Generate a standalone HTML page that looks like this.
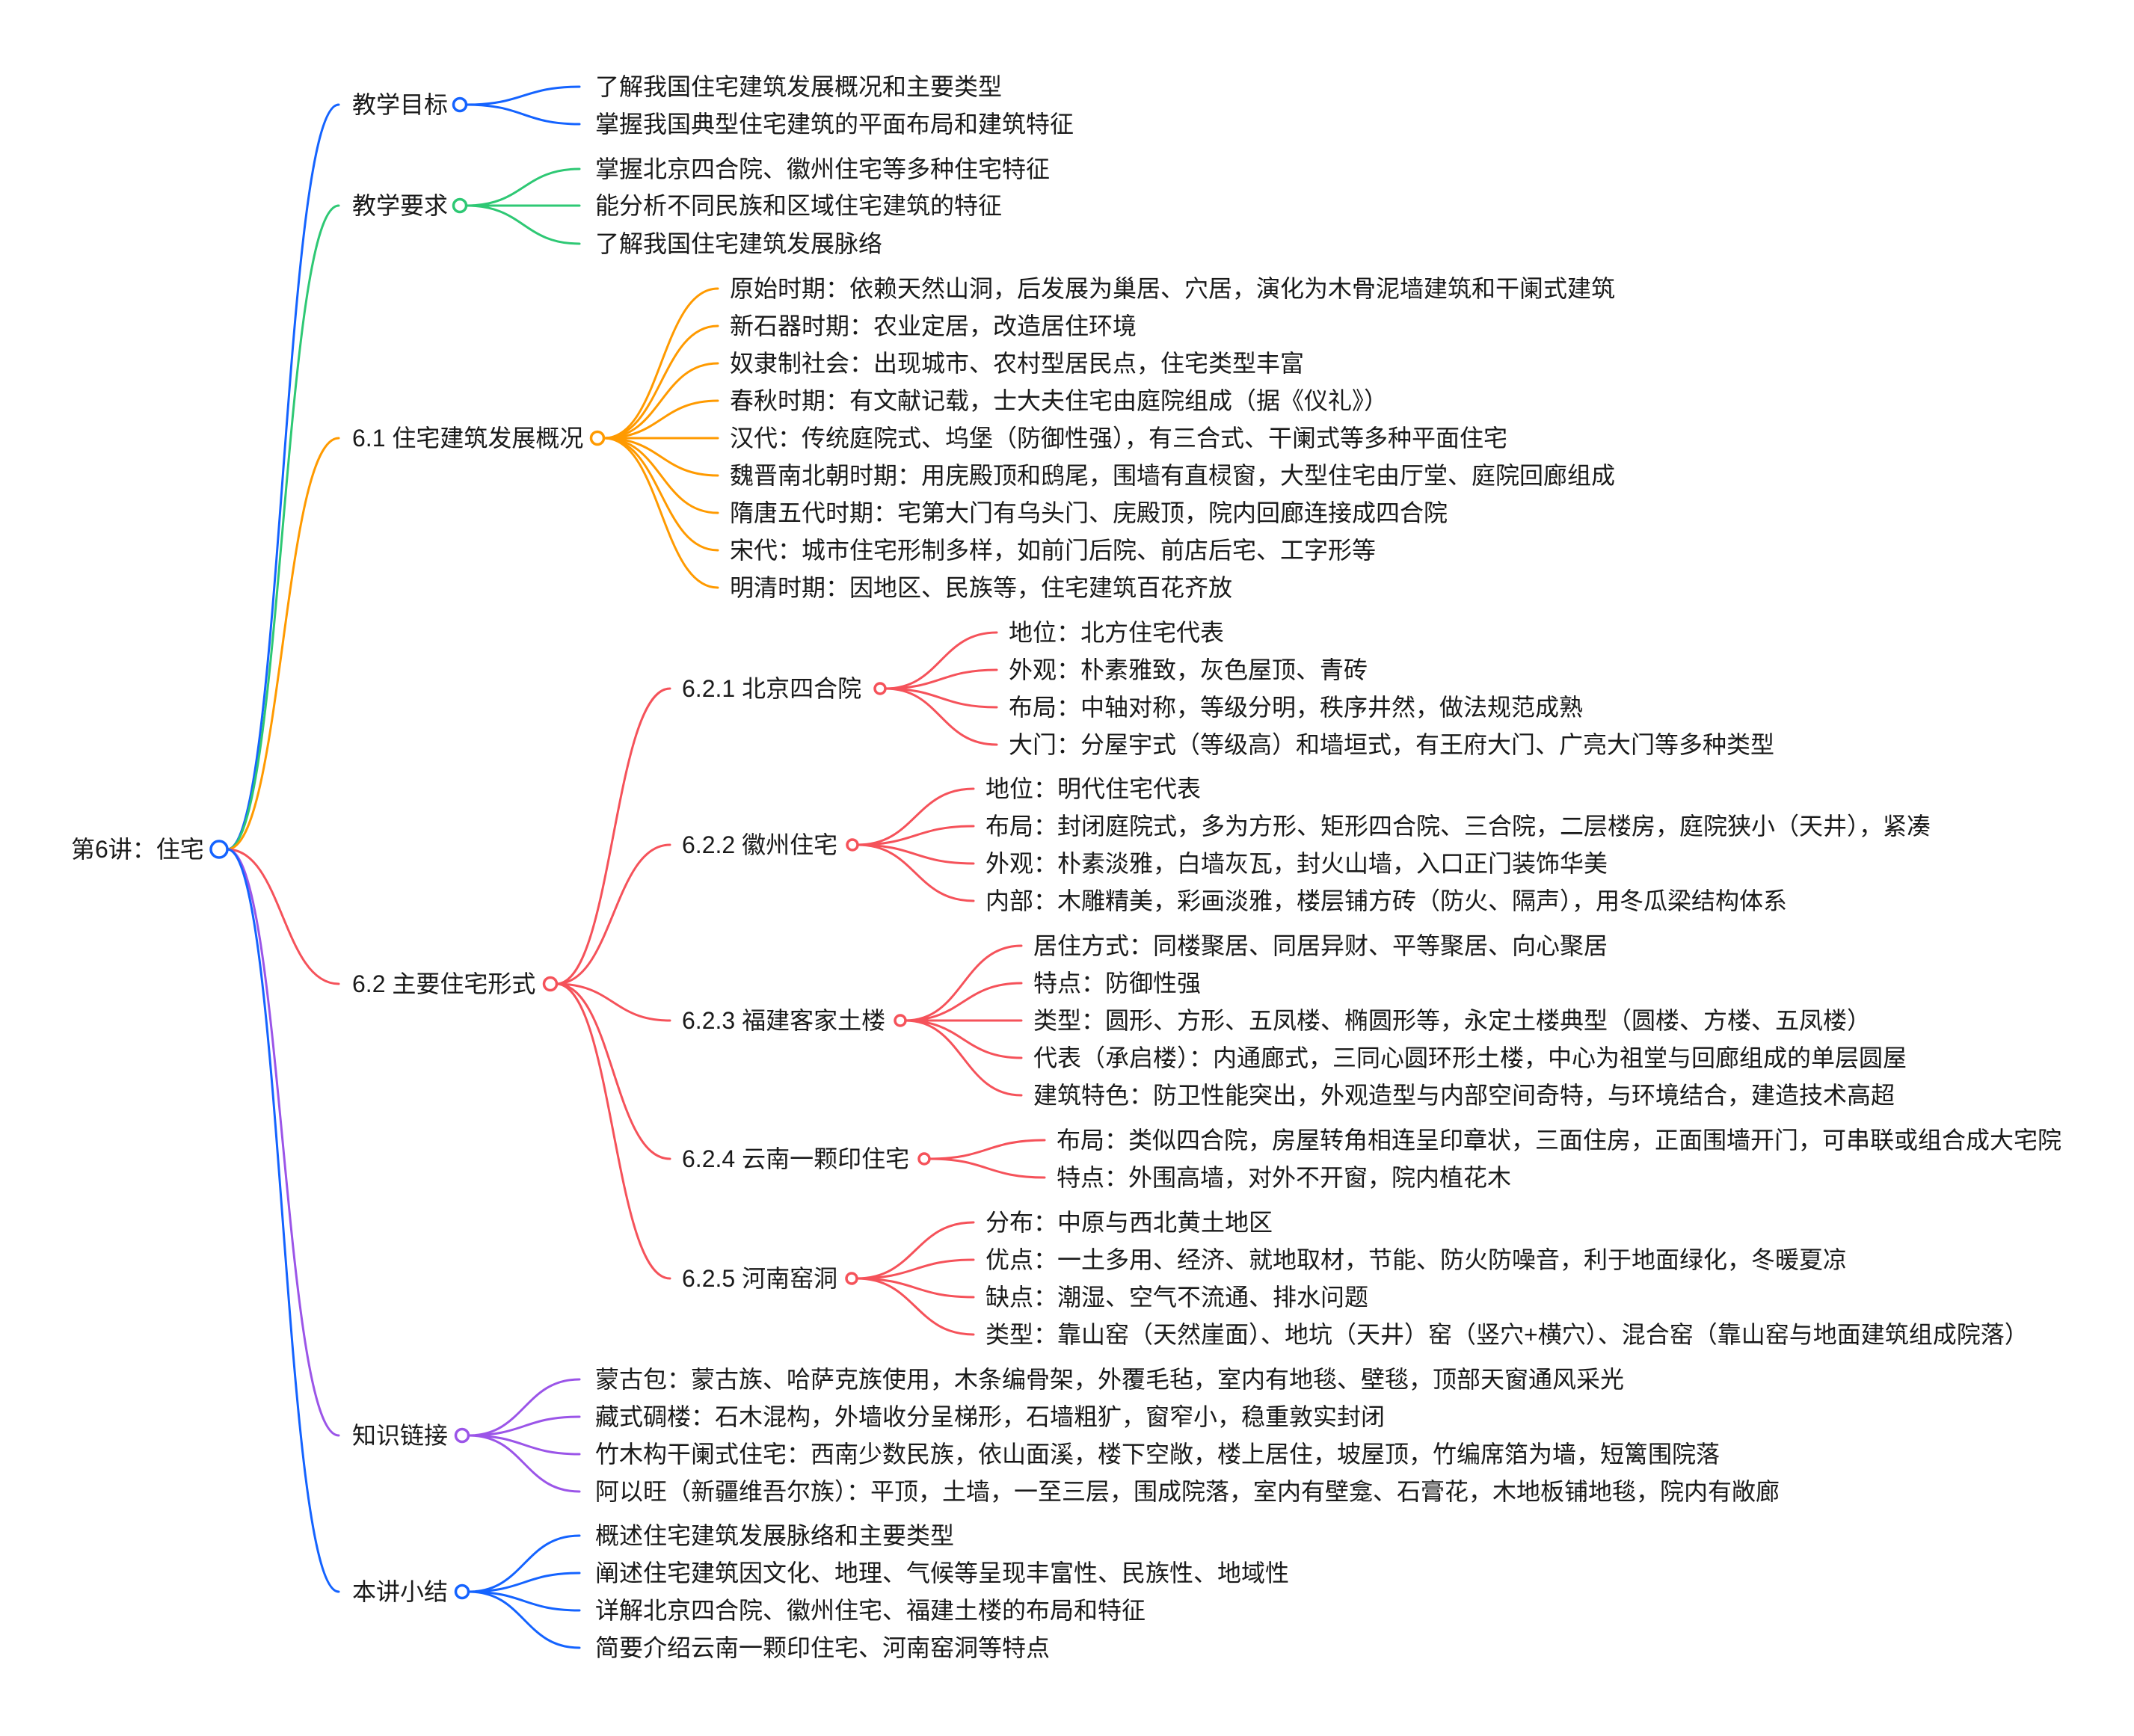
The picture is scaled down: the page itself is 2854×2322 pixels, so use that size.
<!DOCTYPE html>
<html><head><meta charset="utf-8"><style>
html,body{margin:0;padding:0;background:#fff;}
svg{display:block;}
text{font-family:"Liberation Sans","Noto Sans CJK SC",sans-serif;font-size:32px;fill:#1a1a1a;dominant-baseline:central;}
path{fill:none;stroke-width:3;stroke-linecap:round;}
circle{fill:#fff;stroke-width:3.5;}
</style></head><body>
<svg width="2854" height="2322" viewBox="0 0 2854 2322" xmlns="http://www.w3.org/2000/svg">
<!-- root connectors -->
<path stroke="#1463ff" stroke-width="2.5" d="M304 1136 C378 1136 378 140 453 140"/>
<path stroke="#2ec874" stroke-width="2.5" d="M304 1136 C378 1136 378 275 453 275"/>
<path stroke="#ff9a00" stroke-width="2.5" d="M304 1136 C378 1136 378 586 453 586"/>
<path stroke="#f5525a" stroke-width="2.5" d="M304 1136 C378 1136 378 1316 453 1316"/>
<path stroke="#9b55e8" stroke-width="2.5" d="M304 1136 C378 1136 378 1920 453 1920"/>
<path stroke="#1463ff" stroke-width="2.5" d="M304 1136 C378 1136 378 2129 453 2129"/>

<!-- 教学目标 -->
<g stroke="#1463ff">
<path d="M624 140 C700 140 700 116 775 116"/>
<path d="M624 140 C700 140 700 166 775 166"/>
</g>
<!-- 教学要求 -->
<g stroke="#2ec874">
<path d="M624 275 C700 275 700 226 775 226"/>
<path d="M624 275 C700 275 700 275 775 275"/>
<path d="M624 275 C700 275 700 326 775 326"/>
</g>
<!-- 6.1 -->
<g stroke="#ff9a00">
<path d="M808 586 C884 586 884 386 960 386"/>
<path d="M808 586 C884 586 884 436 960 436"/>
<path d="M808 586 C884 586 884 486 960 486"/>
<path d="M808 586 C884 586 884 536 960 536"/>
<path d="M808 586 C884 586 884 586 960 586"/>
<path d="M808 586 C884 586 884 636 960 636"/>
<path d="M808 586 C884 586 884 686 960 686"/>
<path d="M808 586 C884 586 884 736 960 736"/>
<path d="M808 586 C884 586 884 786 960 786"/>
</g>
<!-- 6.2 -->
<g stroke="#f5525a">
<path d="M744 1316 C820 1316 820 921 896 921"/>
<path d="M744 1316 C820 1316 820 1130 896 1130"/>
<path d="M744 1316 C820 1316 820 1365 896 1365"/>
<path d="M744 1316 C820 1316 820 1550 896 1550"/>
<path d="M744 1316 C820 1316 820 1710 896 1710"/>
<path d="M1184 921 C1258 921 1258 846 1333 846"/>
<path d="M1184 921 C1258 921 1258 896 1333 896"/>
<path d="M1184 921 C1258 921 1258 946 1333 946"/>
<path d="M1184 921 C1258 921 1258 996 1333 996"/>
<path d="M1147 1130 C1224 1130 1224 1055 1302 1055"/>
<path d="M1147 1130 C1224 1130 1224 1105 1302 1105"/>
<path d="M1147 1130 C1224 1130 1224 1155 1302 1155"/>
<path d="M1147 1130 C1224 1130 1224 1205 1302 1205"/>
<path d="M1211 1365 C1288 1365 1288 1265 1366 1265"/>
<path d="M1211 1365 C1288 1365 1288 1315 1366 1315"/>
<path d="M1211 1365 C1288 1365 1288 1365 1366 1365"/>
<path d="M1211 1365 C1288 1365 1288 1415 1366 1415"/>
<path d="M1211 1365 C1288 1365 1288 1465 1366 1465"/>
<path d="M1243 1550 C1320 1550 1320 1525 1397 1525"/>
<path d="M1243 1550 C1320 1550 1320 1575 1397 1575"/>
<path d="M1146 1710 C1224 1710 1224 1635 1302 1635"/>
<path d="M1146 1710 C1224 1710 1224 1685 1302 1685"/>
<path d="M1146 1710 C1224 1710 1224 1735 1302 1735"/>
<path d="M1146 1710 C1224 1710 1224 1785 1302 1785"/>
</g>
<!-- 知识链接 -->
<g stroke="#9b55e8">
<path d="M627 1920 C701 1920 701 1845 775 1845"/>
<path d="M627 1920 C701 1920 701 1895 775 1895"/>
<path d="M627 1920 C701 1920 701 1945 775 1945"/>
<path d="M627 1920 C701 1920 701 1995 775 1995"/>
</g>
<!-- 本讲小结 -->
<g stroke="#1463ff">
<path d="M627 2129 C701 2129 701 2054 775 2054"/>
<path d="M627 2129 C701 2129 701 2104 775 2104"/>
<path d="M627 2129 C701 2129 701 2154 775 2154"/>
<path d="M627 2129 C701 2129 701 2204 775 2204"/>
</g>

<!-- circles -->
<circle cx="293" cy="1136" r="11" stroke="#1463ff"/>
<circle cx="615" cy="140" r="8.5" stroke="#1463ff"/>
<circle cx="615" cy="275" r="8.5" stroke="#2ec874"/>
<circle cx="799" cy="586" r="8.5" stroke="#ff9a00"/>
<circle cx="736" cy="1316" r="8.5" stroke="#f5525a"/>
<circle cx="618" cy="1920" r="8.5" stroke="#9b55e8"/>
<circle cx="618" cy="2129" r="8.5" stroke="#1463ff"/>
<circle cx="1177" cy="921" r="7" stroke="#f5525a" stroke-width="3"/>
<circle cx="1140" cy="1130" r="7" stroke="#f5525a" stroke-width="3"/>
<circle cx="1204" cy="1365" r="7" stroke="#f5525a" stroke-width="3"/>
<circle cx="1236" cy="1550" r="7" stroke="#f5525a" stroke-width="3"/>
<circle cx="1139" cy="1710" r="7" stroke="#f5525a" stroke-width="3"/>

<!-- text -->
<text x="95" y="1136">第6讲：住宅</text>
<text x="471" y="140">教学目标</text>
<text x="471" y="275">教学要求</text>
<text x="471" y="586">6.1 住宅建筑发展概况</text>
<text x="471" y="1316">6.2 主要住宅形式</text>
<text x="471" y="1920">知识链接</text>
<text x="471" y="2129">本讲小结</text>

<text x="796" y="116">了解我国住宅建筑发展概况和主要类型</text>
<text x="796" y="166">掌握我国典型住宅建筑的平面布局和建筑特征</text>
<text x="796" y="226">掌握北京四合院、徽州住宅等多种住宅特征</text>
<text x="796" y="275">能分析不同民族和区域住宅建筑的特征</text>
<text x="796" y="326">了解我国住宅建筑发展脉络</text>

<text x="976" y="386">原始时期：依赖天然山洞，后发展为巢居、穴居，演化为木骨泥墙建筑和干阑式建筑</text>
<text x="976" y="436">新石器时期：农业定居，改造居住环境</text>
<text x="976" y="486">奴隶制社会：出现城市、农村型居民点，住宅类型丰富</text>
<text x="976" y="536">春秋时期：有文献记载，士大夫住宅由庭院组成（据《仪礼》）</text>
<text x="976" y="586">汉代：传统庭院式、坞堡（防御性强），有三合式、干阑式等多种平面住宅</text>
<text x="976" y="636">魏晋南北朝时期：用庑殿顶和鸱尾，围墙有直棂窗，大型住宅由厅堂、庭院回廊组成</text>
<text x="976" y="686">隋唐五代时期：宅第大门有乌头门、庑殿顶，院内回廊连接成四合院</text>
<text x="976" y="736">宋代：城市住宅形制多样，如前门后院、前店后宅、工字形等</text>
<text x="976" y="786">明清时期：因地区、民族等，住宅建筑百花齐放</text>

<text x="912" y="921">6.2.1 北京四合院</text>
<text x="912" y="1130">6.2.2 徽州住宅</text>
<text x="912" y="1365">6.2.3 福建客家土楼</text>
<text x="912" y="1550">6.2.4 云南一颗印住宅</text>
<text x="912" y="1710">6.2.5 河南窑洞</text>

<text x="1349" y="846">地位：北方住宅代表</text>
<text x="1349" y="896">外观：朴素雅致，灰色屋顶、青砖</text>
<text x="1349" y="946">布局：中轴对称，等级分明，秩序井然，做法规范成熟</text>
<text x="1349" y="996">大门：分屋宇式（等级高）和墙垣式，有王府大门、广亮大门等多种类型</text>

<text x="1318" y="1055">地位：明代住宅代表</text>
<text x="1318" y="1105">布局：封闭庭院式，多为方形、矩形四合院、三合院，二层楼房，庭院狭小（天井），紧凑</text>
<text x="1318" y="1155">外观：朴素淡雅，白墙灰瓦，封火山墙，入口正门装饰华美</text>
<text x="1318" y="1205">内部：木雕精美，彩画淡雅，楼层铺方砖（防火、隔声），用冬瓜梁结构体系</text>

<text x="1382" y="1265">居住方式：同楼聚居、同居异财、平等聚居、向心聚居</text>
<text x="1382" y="1315">特点：防御性强</text>
<text x="1382" y="1365">类型：圆形、方形、五凤楼、椭圆形等，永定土楼典型（圆楼、方楼、五凤楼）</text>
<text x="1382" y="1415">代表（承启楼）：内通廊式，三同心圆环形土楼，中心为祖堂与回廊组成的单层圆屋</text>
<text x="1382" y="1465">建筑特色：防卫性能突出，外观造型与内部空间奇特，与环境结合，建造技术高超</text>

<text x="1413" y="1525">布局：类似四合院，房屋转角相连呈印章状，三面住房，正面围墙开门，可串联或组合成大宅院</text>
<text x="1413" y="1575">特点：外围高墙，对外不开窗，院内植花木</text>

<text x="1318" y="1635">分布：中原与西北黄土地区</text>
<text x="1318" y="1685">优点：一土多用、经济、就地取材，节能、防火防噪音，利于地面绿化，冬暖夏凉</text>
<text x="1318" y="1735">缺点：潮湿、空气不流通、排水问题</text>
<text x="1318" y="1785">类型：靠山窑（天然崖面）、地坑（天井）窑（竖穴+横穴）、混合窑（靠山窑与地面建筑组成院落）</text>

<text x="796" y="1845">蒙古包：蒙古族、哈萨克族使用，木条编骨架，外覆毛毡，室内有地毯、壁毯，顶部天窗通风采光</text>
<text x="796" y="1895">藏式碉楼：石木混构，外墙收分呈梯形，石墙粗犷，窗窄小，稳重敦实封闭</text>
<text x="796" y="1945">竹木构干阑式住宅：西南少数民族，依山面溪，楼下空敞，楼上居住，坡屋顶，竹编席箔为墙，短篱围院落</text>
<text x="796" y="1995">阿以旺（新疆维吾尔族）：平顶，土墙，一至三层，围成院落，室内有壁龛、石膏花，木地板铺地毯，院内有敞廊</text>

<text x="796" y="2054">概述住宅建筑发展脉络和主要类型</text>
<text x="796" y="2104">阐述住宅建筑因文化、地理、气候等呈现丰富性、民族性、地域性</text>
<text x="796" y="2154">详解北京四合院、徽州住宅、福建土楼的布局和特征</text>
<text x="796" y="2204">简要介绍云南一颗印住宅、河南窑洞等特点</text>
</svg>
</body></html>
